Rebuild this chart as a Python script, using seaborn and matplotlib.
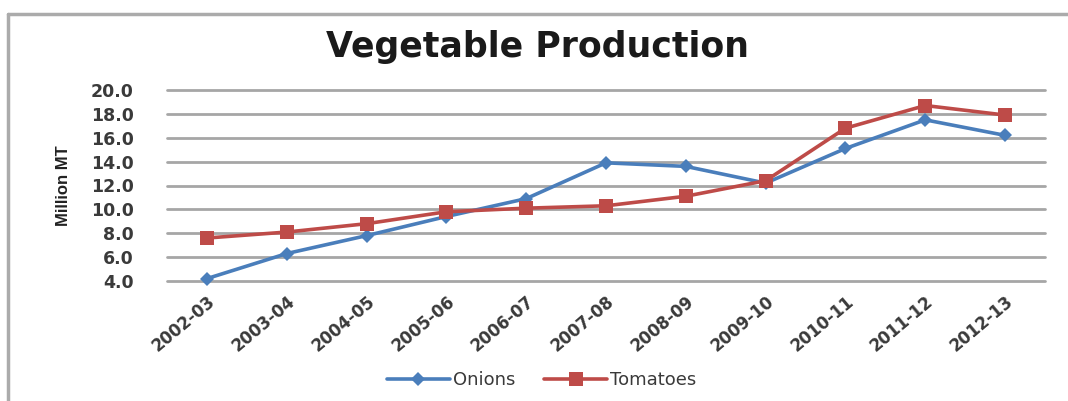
import matplotlib
matplotlib.use("Agg")
import matplotlib.pyplot as plt
from matplotlib.lines import Line2D
import seaborn as sns
import pandas as pd

categories = ["2002-03", "2003-04", "2004-05", "2005-06", "2006-07", "2007-08",
              "2008-09", "2009-10", "2010-11", "2011-12", "2012-13"]
onions = [4.2, 6.3, 7.8, 9.4, 10.9, 13.9, 13.6, 12.2, 15.1, 17.5, 16.2]
tomatoes = [7.6, 8.1, 8.8, 9.8, 10.1, 10.3, 11.1, 12.4, 16.8, 18.7, 17.9]
y_ticks = [4.0, 6.0, 8.0, 10.0, 12.0, 14.0, 16.0, 18.0, 20.0]

sns.set_theme(style="white")
plt.rcParams["font.family"] = ["DejaVu Sans"]

df = pd.DataFrame({
    "idx": list(range(len(categories))) * 2,
    "value": onions + tomatoes,
    "series": ["Onions"] * len(categories) + ["Tomatoes"] * len(categories),
})

blue = "#4A7EBB"
red = "#BE4B48"
txt = "#3a3a3a"

fig = plt.figure(figsize=(10.68, 4.01), dpi=100)
ax = fig.add_axes([167 / 1068, 1 - 281 / 401, (1045 - 167) / 1068, (281 - 90) / 401])

# outer chart frame (left and top edges visible)
fy = 1 - 14 / 401
fx = 8 / 1068
fig.add_artist(Line2D([fx, fx], [0, fy], transform=fig.transFigure, color="#ABABAB", linewidth=2.5))
fig.add_artist(Line2D([fx, 1.0], [fy, fy], transform=fig.transFigure, color="#ABABAB", linewidth=2.5))

sns.lineplot(data=df, x="idx", y="value", hue="series", style="series",
             palette={"Onions": blue, "Tomatoes": red},
             markers={"Onions": "D", "Tomatoes": "s"}, dashes=False,
             linewidth=2.6, markersize=10, markeredgewidth=0, ax=ax, legend=False, zorder=3)
for ln in ax.lines:
    ln.set_clip_on(False)
    if ln.get_marker() == "D":
        ln.set_markersize(7.5)

ax.set_xlim(-0.5, len(categories) - 0.5)
ax.set_ylim(4.0, 20.0)
ax.set_yticks(y_ticks)
ax.set_yticklabels([f"{v:.1f}" for v in y_ticks], fontsize=12.5, fontweight="bold", color=txt)
ax.set_xticks(range(len(categories)))
ax.set_xticklabels(categories, rotation=40, ha="right", rotation_mode="anchor",
                   fontsize=12, fontweight="bold", color=txt)
ax.tick_params(axis="x", length=0, pad=8)
ax.tick_params(axis="y", length=0, pad=24)

for v in y_ticks:
    ax.axhline(v, color="#A6A6A6", linewidth=2.0, zorder=1, clip_on=False)
for s in ax.spines.values():
    s.set_visible(False)

ax.set_xlabel("")
ax.set_ylabel("Million MT", fontsize=12, fontweight="bold", color="#222222",
              family=["Liberation Sans Narrow", "Liberation Sans", "DejaVu Sans"], labelpad=14)

fig.text(0.503, 1 - 47 / 401, "Vegetable Production", ha="center", va="center",
         fontsize=25, fontweight="bold", color="#1a1a1a", family=["DejaVu Sans"])

handles = [
    Line2D([0], [0], color=blue, marker="D", markersize=7.5, linewidth=2.6, markeredgewidth=0),
    Line2D([0], [0], color=red, marker="s", markersize=10, linewidth=2.6, markeredgewidth=0),
]
fig.legend(handles, ["Onions", "Tomatoes"], loc="center", bbox_to_anchor=(0.507, 1 - 380 / 401),
           ncol=2, frameon=False, fontsize=13, handlelength=3.5, handletextpad=0.15,
           columnspacing=1.6, labelcolor=txt)

fig.savefig("out.png", dpi=100)
